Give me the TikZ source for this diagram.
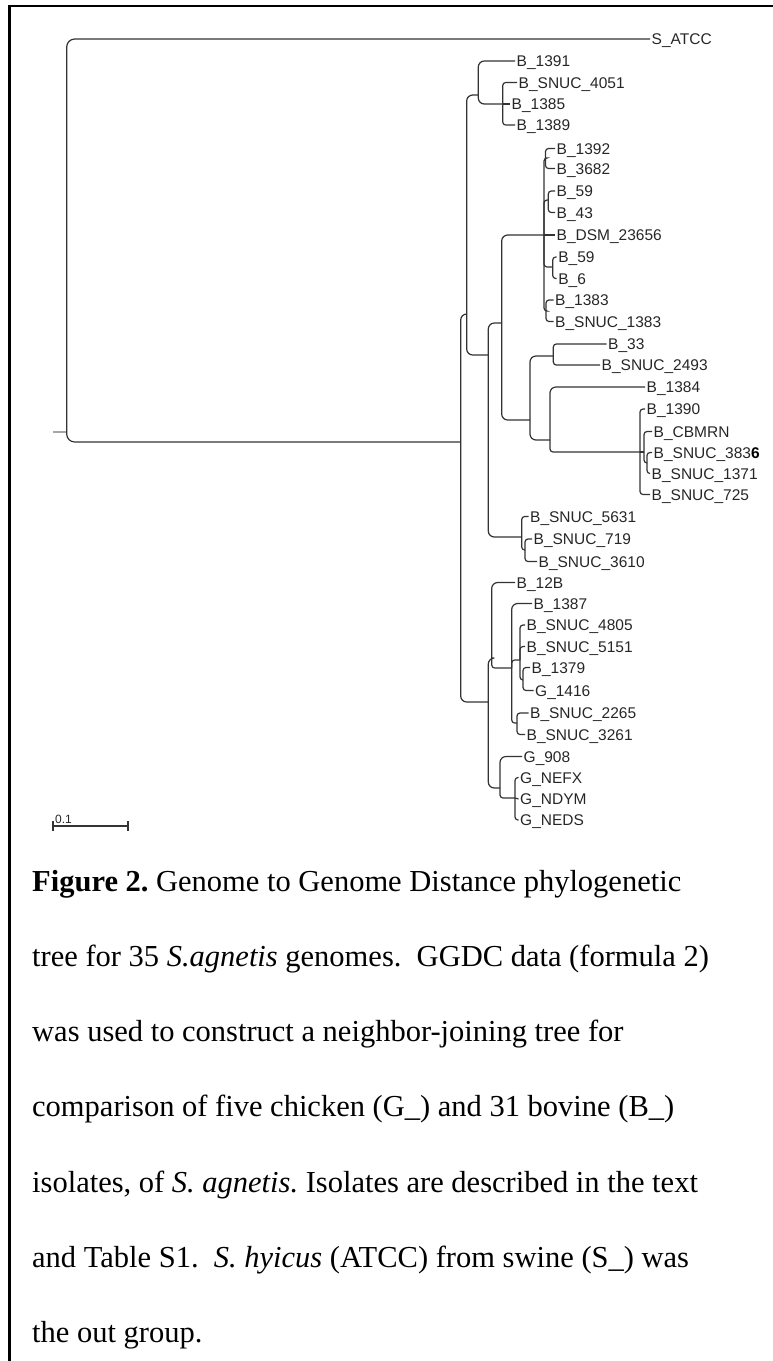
\documentclass[tikz,border=0pt]{standalone}
\usepackage{fontspec}
\setmainfont{Liberation Serif}
\newfontfamily\treefont{Liberation Sans}
\begin{document}
\begin{tikzpicture}[x=1pt,y=-1pt,
  br/.style={draw=black!80, line width=1.2pt, rounded corners=6pt},
  brs/.style={draw=black!80, line width=1.2pt, rounded corners=3pt},
  stubline/.style={draw=black!35, line width=1.2pt},
  lf/.style={font=\treefont\fontsize{15.5}{15.5}\selectfont, text=black!85, anchor=west,
    inner xsep=1.5pt, inner ysep=0pt, text height=11.2pt, text depth=0pt},
  capline/.style={font=\fontsize{30.5}{30.5}\selectfont, anchor=base west, inner sep=0pt},
  frame/.style={draw=black, line width=2.3pt}]
\useasboundingbox (0,0) rectangle (773,1361);
\frenchspacing
% frame
\coordinate (fb) at (9.5,1366);
\coordinate (fc) at (9.5,6);
\coordinate (fr) at (778,6);
\draw[frame] (fb) -- (fc) -- (fr);

% root
\coordinate (stub) at (53,432);
\coordinate (root) at (66.7,432);
\coordinate (rootc) at (66.7,442);
\coordinate (I) at (460.7,442);
\node[lf] (atcc) at (650,39) {S\_ATCC};
\draw[stubline] (stub) -- (root);
\draw[br, rounded corners=8pt] (atcc.west) -| (rootc) -- (I);

% ingroup
\coordinate (x1) at (466.7,314);
\coordinate (D) at (488.3,702);
\draw[br] (I) |- (x1);
\draw[br] (I) |- (D);

\coordinate (N1) at (478.3,95);
\coordinate (R) at (488.3,355);
\draw[br] (x1) |- (N1);
\draw[br] (x1) |- (R);

\node[lf] (b1391) at (515,61) {B\_1391};
\coordinate (N2) at (502.7,104);
\draw[br] (N1) |- (b1391.west);
\draw[br] (N1) |- (N2);
\node[lf] (b4051) at (517,82.5) {B\_SNUC\_4051};
\node[lf] (b1385) at (510,104) {B\_1385};
\node[lf] (b1389) at (515,125) {B\_1389};
\draw[brs] (N2) |- (b4051.west);
\draw[br] (N2) -- (b1385.west);
\draw[brs] (N2) |- (b1389.west);

% R
\coordinate (P) at (501.7,323);
\coordinate (K) at (521.7,537);
\draw[br] (R) |- (P);
\draw[br] (R) |- (K);

\coordinate (M) at (544,235);
\coordinate (Q) at (530,420);
\draw[br] (P) |- (M);
\draw[br] (P) |- (Q);

\coordinate (m1) at (545.5,158);
\coordinate (m2) at (548.3,200);
\coordinate (m3) at (552.7,267);
\coordinate (m4) at (546,311);
\node[lf] (bdsm) at (555,235) {B\_DSM\_23656};
\draw[brs] (M) |- (m1);
\draw[brs] (M) |- (m2);
\draw[br] (M) -- (bdsm.west);
\draw[brs] (M) |- (m3);
\draw[brs] (M) |- (m4);
\node[lf] (b1392) at (555,148.5) {B\_1392};
\node[lf] (b3682) at (555,168.5) {B\_3682};
\draw[brs] (m1) |- (b1392.west);
\draw[brs] (m1) |- (b3682.west);
\node[lf] (b59a) at (555,191) {B\_59};
\node[lf] (b43) at (555,212.5) {B\_43};
\draw[brs] (m2) |- (b59a.west);
\draw[brs] (m2) |- (b43.west);
\node[lf] (b59b) at (556.7,257) {B\_59};
\node[lf] (b6) at (556.7,278.5) {B\_6};
\draw[brs] (m3) |- (b59b.west);
\draw[brs] (m3) |- (b6.west);
\node[lf] (b1383) at (553.5,300) {B\_1383};
\node[lf] (bs1383) at (553.5,321.5) {B\_SNUC\_1383};
\draw[brs] (m4) |- (b1383.west);
\draw[brs] (m4) |- (bs1383.west);

% Q
\coordinate (S) at (553.3,356);
\coordinate (T) at (550,440);
\draw[br] (Q) |- (S);
\draw[br] (Q) |- (T);
\node[lf] (b33) at (606.5,344) {B\_33};
\node[lf] (bs2493) at (600,365) {B\_SNUC\_2493};
\draw[brs] (S) |- (b33.west);
\draw[brs] (S) |- (bs2493.west);
\node[lf] (b1384) at (645,387) {B\_1384};
\coordinate (U) at (640,452);
\draw[br] (T) |- (b1384.west);
\draw[brs] (T) |- (U);
\node[lf] (b1390) at (645,409) {B\_1390};
\coordinate (V) at (644,452);
\node[lf] (bs725) at (650,494.5) {B\_SNUC\_725};
\draw[brs] (U) |- (b1390.west);
\draw[br] (U) -- (V);
\draw[brs] (U) |- (bs725.west);
\node[lf] (bcbmrn) at (652,431.5) {B\_CBMRN};
\coordinate (W) at (647,463);
\draw[brs] (V) |- (bcbmrn.west);
\draw[brs] (V) |- (W);
\node[lf] (bs3836) at (652,452.5) {B\_SNUC\_383\textcolor{black}{\bfseries 6}};
\node[lf] (bs1371) at (650,473.5) {B\_SNUC\_1371};
\draw[brs] (W) |- (bs3836.west);
\draw[brs] (W) |- (bs1371.west);

% K
\node[lf] (bs5631) at (528.5,516.5) {B\_SNUC\_5631};
\coordinate (K2) at (525,550);
\draw[brs] (K) |- (bs5631.west);
\draw[brs] (K) |- (K2);
\node[lf] (bs719) at (532,539) {B\_SNUC\_719};
\node[lf] (bs3610) at (537,561.5) {B\_SNUC\_3610};
\draw[brs] (K2) |- (bs719.west);
\draw[brs] (K2) |- (bs3610.west);

% D
\coordinate (E) at (491.7,658);
\coordinate (G) at (500,788);
\draw[br] (D) |- (E);
\draw[br] (D) |- (G);
\node[lf] (b12B) at (515,582.5) {B\_12B};
\coordinate (F) at (511.7,668);
\draw[br] (E) |- (b12B.west);
\draw[brs] (E) |- (F);
\node[lf] (b1387) at (532,603.5) {B\_1387};
\coordinate (H) at (520,660);
\coordinate (J) at (517,723);
\draw[br] (F) |- (b1387.west);
\draw[brs] (F) |- (H);
\draw[brs] (F) |- (J);
\node[lf] (bs4805) at (525,625) {B\_SNUC\_4805};
\node[lf] (bs5151) at (525,646.5) {B\_SNUC\_5151};
\coordinate (h2) at (523,680);
\draw[brs] (H) |- (bs4805.west);
\draw[brs] (H) |- (bs5151.west);
\draw[brs] (H) |- (h2);
\node[lf] (b1379) at (530,667.5) {B\_1379};
\node[lf] (g1416) at (533.5,690.5) {G\_1416};
\draw[brs] (h2) |- (b1379.west);
\draw[brs] (h2) |- (g1416.west);
\node[lf] (bs2265) at (528.5,713) {B\_SNUC\_2265};
\node[lf] (bs3261) at (525,734.5) {B\_SNUC\_3261};
\draw[brs] (J) |- (bs2265.west);
\draw[brs] (J) |- (bs3261.west);
\node[lf] (g908) at (522,756.5) {G\_908};
\coordinate (G2) at (515,798);
\draw[br] (G) |- (g908.west);
\draw[brs] (G) |- (G2);
\node[lf] (gnefx) at (518.5,777.5) {G\_NEFX};
\node[lf] (gndym) at (518.5,799) {G\_NDYM};
\node[lf] (gneds) at (518.5,820) {G\_NEDS};
\draw[brs] (G2) |- (gnefx.west);
\draw[br] (G2) -- (gndym.west);
\draw[brs] (G2) |- (gneds.west);

% scale bar
\coordinate (sbL) at (53,826);
\coordinate (sbR) at (128,826);
\draw[black!80, line width=1.2pt] (sbL) -- (sbR);
\draw[black!80, line width=1.2pt] (sbL) ++(0,-5) -- ++(0,10);
\draw[black!80, line width=1.2pt] (sbR) ++(0,-5) -- ++(0,10);
\node[font=\treefont\fontsize{12}{12}\selectfont, text=black!85, anchor=base west, inner sep=0pt] (sblab) at (55,823) {0.1};

% caption
\node[capline] (cap1) at (32,891) {\textbf{Figure 2.} Genome to Genome Distance phylogenetic};
\node[capline] (cap2) at (32,966.3) {tree for 35 \textit{S.agnetis} genomes.\ \ GGDC data (formula 2)};
\node[capline] (cap3) at (32,1041.6) {was used to construct a neighbor-joining tree for};
\node[capline] (cap4) at (32,1116.9) {comparison of five chicken (G\_) and 31 bovine (B\_)};
\node[capline] (cap5) at (32,1192.2) {isolates, of \textit{S. agnetis.} Isolates are described in the text};
\node[capline] (cap6) at (32,1267.5) {and Table S1.\ \ \textit{S. hyicus} (ATCC) from swine (S\_) was};
\node[capline] (cap7) at (32,1342.8) {the out group.};
\end{tikzpicture}
\end{document}
